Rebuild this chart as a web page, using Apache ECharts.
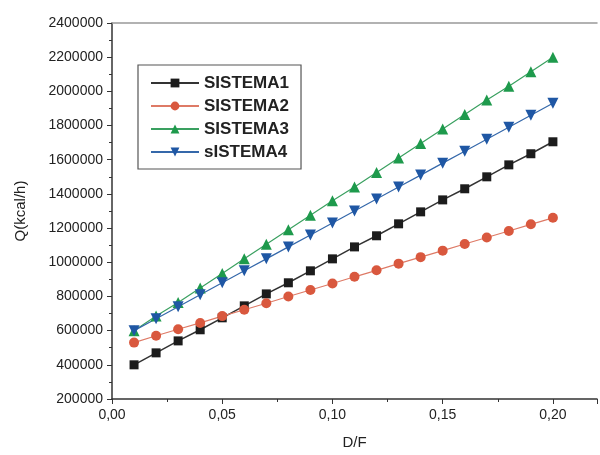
<!DOCTYPE html>
<html lang="en">
<head>
    <meta charset="UTF-8">
    <title>Q vs D/F</title>
    <script src="https://cdn.jsdelivr.net/npm/echarts@6/dist/echarts.min.js"></script>
    <style>
        html, body { margin: 0; padding: 0; background: #fff; }
        #chart { width: 600px; height: 455px; }
    </style>
</head>
<body>
<div id="chart"></div>
<script type="text/javascript">
    // D/F values
    const df = [0.01, 0.02, 0.03, 0.04, 0.05, 0.06, 0.07, 0.08, 0.09, 0.10,
                0.11, 0.12, 0.13, 0.14, 0.15, 0.16, 0.17, 0.18, 0.19, 0.20];
    const sistema1 = [400000, 470000, 540000, 605000, 675000, 745000, 815000, 880000, 950000, 1020000,
                      1090000, 1155000, 1225000, 1295000, 1365000, 1430000, 1500000, 1570000, 1635000, 1705000];
    const sistema2 = [530000, 570000, 608000, 645000, 685000, 722000, 760000, 800000, 838000, 876000,
                      915000, 953000, 992000, 1030000, 1068000, 1107000, 1145000, 1183000, 1222000, 1260000];
    const sistema3 = [600000, 685000, 765000, 850000, 935000, 1020000, 1105000, 1190000, 1275000, 1360000,
                      1440000, 1525000, 1610000, 1695000, 1780000, 1865000, 1950000, 2030000, 2115000, 2200000];
    const sistema4 = [600000, 670000, 740000, 810000, 880000, 950000, 1020000, 1090000, 1160000, 1230000,
                      1300000, 1370000, 1440000, 1510000, 1580000, 1650000, 1720000, 1790000, 1860000, 1930000];
    const names = ['SISTEMA1', 'SISTEMA2', 'SISTEMA3', 'sISTEMA4'];

    const pairs = vals => df.map((x, i) => [x, vals[i]]);

    let chart = echarts.init(document.getElementById('chart'));
    const font = 'Liberation Sans, Arial, sans-serif';

    chart.setOption({
        animation: false,
        textStyle: { fontFamily: font },
        grid: { left: 112, right: 3, top: 23, bottom: 52 },
        legend: {
            orient: 'vertical',
            left: 138,
            top: 65,
            data: names,
            itemWidth: 48,
            itemHeight: 11,
            itemGap: 5,
            padding: [9, 12, 8, 12],
            borderColor: '#555',
            borderWidth: 1.2,
            textStyle: { fontSize: 17, fontWeight: 'bold', color: '#222', lineHeight: 18 }
        },
        xAxis: [{
            type: 'value',
            min: 0,
            max: 0.22,
            interval: 0.05,
            name: 'D/F',
            nameLocation: 'middle',
            nameGap: 36,
            nameTextStyle: { fontSize: 15, color: '#222' },
            axisLine: { lineStyle: { color: '#333', width: 1.5 } },
            axisTick: { length: 5, lineStyle: { color: '#333' } },
            minorTick: { show: true, splitNumber: 2, length: 3, lineStyle: { color: '#333' } },
            splitLine: { show: false },
            axisLabel: {
                fontSize: 14, color: '#222', margin: 9, showMaxLabel: false,
                formatter: v => v.toFixed(2).replace('.', ',')
            }
        }, {
            type: 'value',
            position: 'top',
            min: 0,
            max: 0.22,
            axisLine: { show: true, lineStyle: { color: '#999', width: 1.5 } },
            axisTick: { show: false },
            axisLabel: { show: false },
            splitLine: { show: false }
        }],
        yAxis: {
            type: 'value',
            min: 200000,
            max: 2400000,
            interval: 200000,
            name: 'Q(kcal/h)',
            nameLocation: 'middle',
            nameGap: 84,
            nameTextStyle: { fontSize: 15, color: '#222' },
            axisLine: { show: true, lineStyle: { color: '#333', width: 1.5 } },
            axisTick: { length: 5, lineStyle: { color: '#333' } },
            minorTick: { show: true, splitNumber: 2, length: 3, lineStyle: { color: '#333' } },
            splitLine: { show: false },
            axisLabel: { fontSize: 14, color: '#222', margin: 9, formatter: v => String(v) }
        },
        series: [
            {
                name: names[0], type: 'line', data: pairs(sistema1),
                symbol: 'rect', symbolSize: 9,
                itemStyle: { color: '#1c1c1c' },
                lineStyle: { color: '#333', width: 1.5 }
            },
            {
                name: names[1], type: 'line', data: pairs(sistema2),
                symbol: 'circle', symbolSize: 10,
                itemStyle: { color: '#d9583e' },
                lineStyle: { color: '#de7a66', width: 1.2 }
            },
            {
                name: names[2], type: 'line', data: pairs(sistema3),
                symbol: 'triangle', symbolSize: 11,
                itemStyle: { color: '#1e9a4c' },
                lineStyle: { color: '#3aa060', width: 1.2 }
            },
            {
                name: names[3], type: 'line', data: pairs(sistema4),
                symbol: 'triangle', symbolRotate: 180, symbolSize: 11,
                itemStyle: { color: '#1f57a4' },
                lineStyle: { color: '#3568aa', width: 1.2 }
            }
        ]
    });
</script>
</body>
</html>
